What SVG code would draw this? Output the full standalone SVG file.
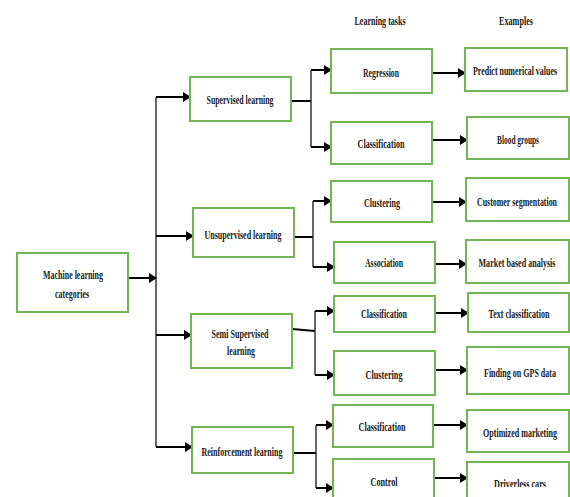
<svg xmlns="http://www.w3.org/2000/svg" width="570" height="497" viewBox="0 0 570 497">
<style>
.box{fill:#fff;stroke:#72B552;stroke-width:2}
.t{font-family:"Liberation Serif","Times New Roman",serif;font-size:13px;font-weight:bold;fill:#1a1a1a;text-anchor:middle}
.c{fill:none;stroke:#000;stroke-width:2}
.trunk{fill:none;stroke:#333;stroke-width:1.5}
</style>
<defs>
<marker id="ah" markerUnits="userSpaceOnUse" markerWidth="8" markerHeight="10" refX="7" refY="5" orient="auto">
<path d="M0,0 L8,5 L0,10 z" fill="#000"/>
</marker>
<clipPath id="clipB" clipPathUnits="userSpaceOnUse"><rect x="-100" y="-20" width="200" height="19"/></clipPath>
</defs>
<rect width="570" height="497" fill="#fff"/>
<text class="t" transform="translate(380,25) scale(0.7,1)" textLength="72.9" lengthAdjust="spacingAndGlyphs">Learning tasks</text>
<text class="t" transform="translate(516,25) scale(0.7,1)" textLength="48.6" lengthAdjust="spacingAndGlyphs">Examples</text>
<g id="connectors">
<path class="trunk" d="M156,97 V447"/>
<path class="c" d="M128,278 H156" marker-end="url(#ah)"/>
<path class="c" d="M156,97 H190" marker-end="url(#ah)"/>
<path class="c" d="M156,236 H193" marker-end="url(#ah)"/>
<path class="c" d="M156,335 H191" marker-end="url(#ah)"/>
<path class="c" d="M156,447 H192" marker-end="url(#ah)"/>
<path class="c" d="M291,101 H311"/>
<path class="trunk" d="M311,70 V147"/>
<path class="c" d="M311,70 H331" marker-end="url(#ah)"/>
<path class="c" d="M311,147 H331" marker-end="url(#ah)"/>
<path class="c" d="M432,73 H465" marker-end="url(#ah)"/>
<path class="c" d="M432,140 H467" marker-end="url(#ah)"/>
<path class="c" d="M294,237 H313"/>
<path class="trunk" d="M313,201 V267"/>
<path class="c" d="M313,201 H331" marker-end="url(#ah)"/>
<path class="c" d="M313,267 H334" marker-end="url(#ah)"/>
<path class="c" d="M432,202 H466" marker-end="url(#ah)"/>
<path class="c" d="M435,264 H466" marker-end="url(#ah)"/>
<path class="c" d="M292,329 L315,331"/>
<path class="trunk" d="M315,311 V375"/>
<path class="c" d="M315,311 H334" marker-end="url(#ah)"/>
<path class="c" d="M315,375 H334" marker-end="url(#ah)"/>
<path class="c" d="M435,313 H468" marker-end="url(#ah)"/>
<path class="c" d="M435,370 H467" marker-end="url(#ah)"/>
<path class="c" d="M293,453 H316"/>
<path class="trunk" d="M316,425 V488"/>
<path class="c" d="M316,425 H333" marker-end="url(#ah)"/>
<path class="c" d="M316,488 H333" marker-end="url(#ah)"/>
<path class="c" d="M433,425 H467" marker-end="url(#ah)"/>
<path class="c" d="M434,478 H467" marker-end="url(#ah)"/>
</g>
<g id="ml"><rect class="box" x="17" y="253" width="111" height="59"/>
<text class="t" transform="translate(73,278.5) scale(0.7,1)" textLength="85.7" lengthAdjust="spacingAndGlyphs">Machine learning</text>
<text class="t" transform="translate(72,297.5) scale(0.7,1)" textLength="48.6" lengthAdjust="spacingAndGlyphs">categories</text></g>
<g id="supervised"><rect class="box" x="190" y="77" width="101" height="44"/>
<text class="t" transform="translate(240,103.5) scale(0.7,1)" textLength="95.7" lengthAdjust="spacingAndGlyphs">Supervised learning</text></g>
<g id="unsupervised"><rect class="box" x="193" y="208" width="101" height="49"/>
<text class="t" transform="translate(243,238.5) scale(0.7,1)" textLength="110" lengthAdjust="spacingAndGlyphs">Unsupervised learning</text></g>
<g id="semi"><rect class="box" x="191" y="314" width="101" height="54"/>
<text class="t" transform="translate(240,337.5) scale(0.7,1)" textLength="81.4" lengthAdjust="spacingAndGlyphs">Semi Supervised</text>
<text class="t" transform="translate(241,354.5) scale(0.7,1)" textLength="40" lengthAdjust="spacingAndGlyphs">learning</text></g>
<g id="reinforcement"><rect class="box" x="192" y="427" width="101" height="46"/>
<text class="t" transform="translate(242,455.5) scale(0.7,1)" textLength="115.7" lengthAdjust="spacingAndGlyphs">Reinforcement learning</text></g>
<g id="regression"><rect class="box" x="331" y="49" width="101" height="44"/>
<text class="t" transform="translate(381,76.5) scale(0.7,1)" textLength="51.4" lengthAdjust="spacingAndGlyphs">Regression</text></g>
<g id="classification1"><rect class="box" x="331" y="122" width="101" height="42"/>
<text class="t" transform="translate(381,147.5) scale(0.7,1)" textLength="67.1" lengthAdjust="spacingAndGlyphs">Classification</text></g>
<g id="predict"><rect class="box" x="465" y="48" width="102" height="43"/>
<text class="t" transform="translate(515,74.5) scale(0.7,1)" textLength="120" lengthAdjust="spacingAndGlyphs">Predict numerical values</text></g>
<g id="blood"><rect class="box" x="467" y="117" width="102" height="42"/>
<text class="t" transform="translate(518,143.5) scale(0.7,1)" textLength="60" lengthAdjust="spacingAndGlyphs">Blood groups</text></g>
<g id="clustering1"><rect class="box" x="331" y="181" width="101" height="41"/>
<text class="t" transform="translate(382,206.5) scale(0.7,1)" textLength="51.4" lengthAdjust="spacingAndGlyphs">Clustering</text></g>
<g id="customer"><rect class="box" x="466" y="178" width="103" height="43"/>
<text class="t" transform="translate(517,205.5) scale(0.7,1)" textLength="114.3" lengthAdjust="spacingAndGlyphs">Customer segmentation</text></g>
<g id="association"><rect class="box" x="334" y="242" width="101" height="41"/>
<text class="t" transform="translate(384,266.5) scale(0.7,1)" textLength="54.3" lengthAdjust="spacingAndGlyphs">Association</text></g>
<g id="market"><rect class="box" x="466" y="240" width="103" height="43"/>
<text class="t" transform="translate(517,266.5) scale(0.7,1)" textLength="110" lengthAdjust="spacingAndGlyphs">Market based analysis</text></g>
<g id="classification2"><rect class="box" x="334" y="296" width="101" height="36"/>
<text class="t" transform="translate(384,317.5) scale(0.7,1)" textLength="65.7" lengthAdjust="spacingAndGlyphs">Classification</text></g>
<g id="textclass"><rect class="box" x="468" y="293" width="101" height="39"/>
<text class="t" transform="translate(519,317.5) scale(0.7,1)" textLength="87.1" lengthAdjust="spacingAndGlyphs">Text classification</text></g>
<g id="clustering2"><rect class="box" x="334" y="351" width="101" height="44"/>
<text class="t" transform="translate(384,378.5) scale(0.7,1)" textLength="52.9" lengthAdjust="spacingAndGlyphs">Clustering</text></g>
<g id="gps"><rect class="box" x="467" y="347" width="102" height="47"/>
<text class="t" transform="translate(520,376.5) scale(0.7,1)" textLength="102.9" lengthAdjust="spacingAndGlyphs">Finding on GPS data</text></g>
<g id="classification3"><rect class="box" x="333" y="405" width="100" height="42"/>
<text class="t" transform="translate(382,430.5) scale(0.7,1)" textLength="67.1" lengthAdjust="spacingAndGlyphs">Classification</text></g>
<g id="optimized"><rect class="box" x="467" y="410" width="102" height="42"/>
<text class="t" transform="translate(520,436.5) scale(0.7,1)" textLength="105.7" lengthAdjust="spacingAndGlyphs">Optimized marketing</text></g>
<g id="control"><rect class="box" x="333" y="459" width="101" height="45"/>
<text class="t" transform="translate(384,485.5) scale(0.7,1)" textLength="38.6" lengthAdjust="spacingAndGlyphs">Control</text></g>
<g id="driverless"><rect class="box" x="467" y="462" width="102" height="40"/>
<text class="t" transform="translate(520,488) scale(0.7,1)" textLength="74.3" lengthAdjust="spacingAndGlyphs" clip-path="url(#clipB)">Driverless cars</text></g>
</svg>
